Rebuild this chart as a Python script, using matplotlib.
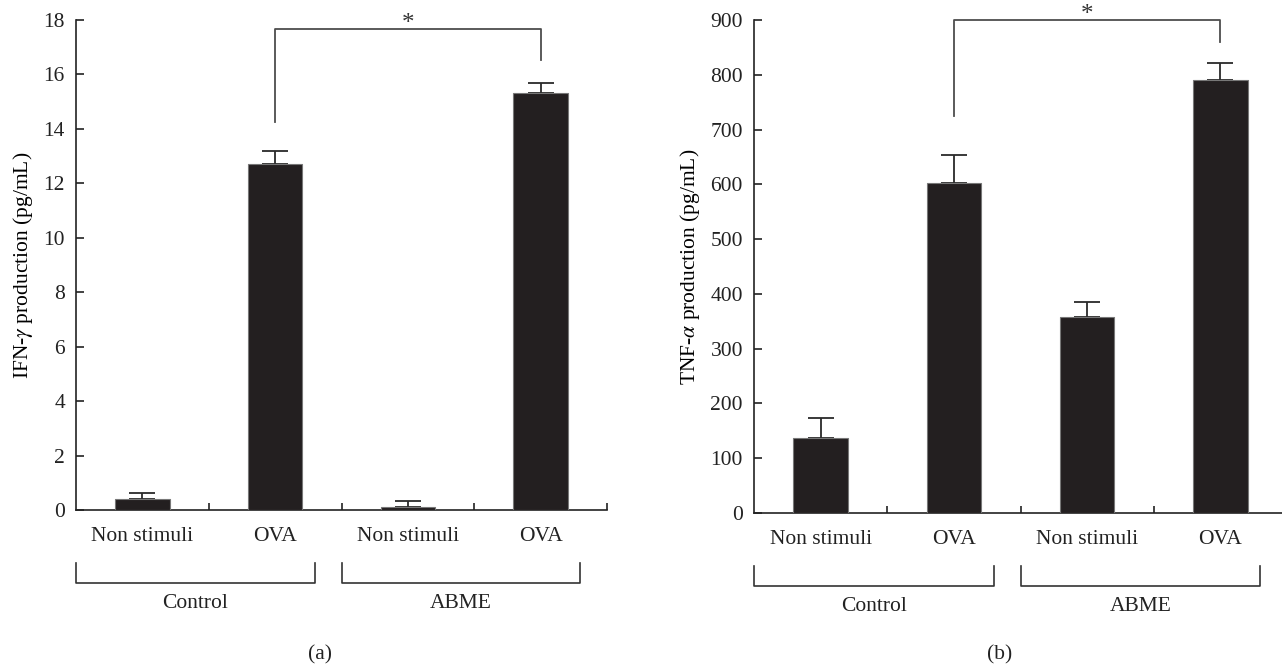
import matplotlib
matplotlib.use("Agg")
import matplotlib.pyplot as plt
import matplotlib.transforms as mtransforms

plt.rcParams['font.family'] = ['Liberation Serif', 'DejaVu Serif']
plt.rcParams['mathtext.fontset'] = 'stix'

# data
categories = ['Non stimuli', 'OVA', 'Non stimuli', 'OVA']
groups = ['Control', 'ABME']

ifn_mean = [0.39, 12.70, 0.12, 15.32]
ifn_err = [0.25, 0.50, 0.22, 0.37]

tnf_mean = [137, 603, 357, 791]
tnf_err = [36, 50, 28, 31]

# significance brackets: (top, left leg bottom, right leg bottom)
sig_a = (17.67, 14.25, 16.53)
sig_b = (900, 724, 860)

bar_color = '#231f20'
line_color = '#4d4d4d'
fs = 15.5

fig = plt.figure(figsize=(12.82, 6.70), dpi=100)
ax_a = fig.add_axes([76 / 1282, 160 / 670, 531 / 1282, 490 / 670])
ax_b = fig.add_axes([754 / 1282, 157 / 670, 533 / 1282, 493 / 670])


def draw_panel(ax, means, errs, ylim, yticks, ylabel, sig):
    x = list(range(len(categories)))
    ax.bar(x, means, width=0.41, color=bar_color, edgecolor='#777777',
           linewidth=0.8, zorder=3)
    ax.errorbar(x, means, yerr=[[0] * len(errs), errs], fmt='none',
                ecolor='#2a2a2a', elinewidth=1.3, capsize=9.6,
                capthick=1.3, zorder=2)
    ax.set_xlim(-0.5, 3.5)
    ax.set_ylim(*ylim)
    ax.set_yticks(yticks)
    ax.set_ylabel(ylabel, fontsize=fs, labelpad=6)

    for s in ['top', 'right']:
        ax.spines[s].set_visible(False)
    for s in ['left', 'bottom']:
        ax.spines[s].set_linewidth(1.2)
        ax.spines[s].set_color('#222222')

    ax.tick_params(axis='y', direction='in', length=6, width=1.2,
                   labelsize=fs, pad=8, colors='#222222')
    ax.set_xticks(x)
    ax.set_xticklabels(categories)
    ax.tick_params(axis='x', length=0, labelsize=fs, pad=12,
                   colors='#222222')
    ax.set_xticks([0.5, 1.5, 2.5, 3.5], minor=True)
    ax.tick_params(axis='x', which='minor', direction='in', length=5,
                   width=1.2, colors='#222222')

    # group brackets below the axis
    trans = mtransforms.blended_transform_factory(ax.transData, ax.transAxes)
    spans = [(-0.5, 1.3), (1.5, 3.3)]
    for (x0, x1), g in zip(spans, groups):
        ax.plot([x0, x0, x1, x1], [-0.108, -0.149, -0.149, -0.108],
                transform=trans, color='#333333', lw=1.2, clip_on=False)
        ax.text((x0 + x1) / 2, -0.19, g, transform=trans, ha='center',
                va='center', fontsize=fs, color='#222222')

    # significance bracket
    top, lb, rb = sig
    ax.plot([1, 1, 3, 3], [lb, top, top, rb], color=line_color, lw=1.3,
            clip_on=False)
    ax.annotate('*', xy=(2, top), xytext=(0, -4), textcoords='offset points',
                ha='center', va='bottom', fontsize=18, color='#333333',
                annotation_clip=False)


draw_panel(ax_a, ifn_mean, ifn_err, (0, 18), range(0, 19, 2),
           r'IFN-$\gamma$ production (pg/mL)', sig_a)
draw_panel(ax_b, tnf_mean, tnf_err, (0, 900), range(0, 901, 100),
           r'TNF-$\alpha$ production (pg/mL)', sig_b)

fig.text(320 / 1282, 1 - 655 / 670, '(a)', ha='center', va='center',
         fontsize=fs, color='#222222')
fig.text(1000 / 1282, 1 - 655 / 670, '(b)', ha='center', va='center',
         fontsize=fs, color='#222222')

fig.savefig('out.png', dpi=100)
